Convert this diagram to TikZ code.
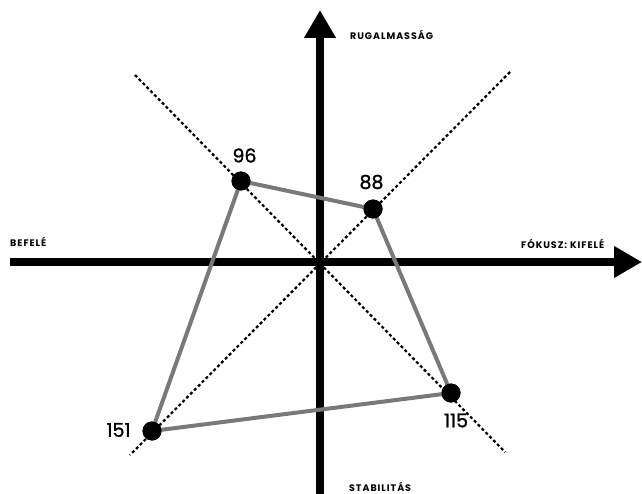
\documentclass[tikz,border=0pt]{standalone}
\usepackage{fontspec}
\setmainfont{Poppins}
\newfontfamily\axfont{Poppins}[LetterSpace=10]
\newfontfamily\numfont{Poppins}[FakeBold=1.2]
\usetikzlibrary{arrows.meta}
\begin{document}
\begin{tikzpicture}[x=1pt,y=-1pt,
  axis/.style={line width=8pt,-{Triangle[length=28pt,width=30pt]}},
  diag/.style={dash pattern=on 3pt off 2.5pt,line width=2.2pt},
  quad/.style={line width=4pt,draw=gray!95!black,line join=round},
  dot/.style={circle,fill=black,minimum size=19pt,inner sep=0pt},
  axlabel/.style={font=\axfont\bfseries\fontsize{9.5}{10}\selectfont,inner sep=0pt},
  numlabel/.style={font=\numfont\fontsize{19}{21}\selectfont,inner sep=0pt}]
\useasboundingbox (0,0) rectangle (642,494);
% axes
\coordinate (xl) at (10,262);
\coordinate (xr) at (642,262);
\coordinate (yb) at (320,494);
\coordinate (yt) at (320,10);
\draw[axis] (xl) -- (xr);
\draw[axis] (yb) -- (yt);
% diagonals
\coordinate (d1a) at (135,75);
\coordinate (d1b) at (505,452);
\coordinate (d2a) at (510,72);
\coordinate (d2b) at (130,455);
\draw[diag] (d1a) -- (d1b);
\draw[diag] (d2a) -- (d2b);
% points
\node[dot] (p96) at (241,181) {};
\node[dot] (p88) at (373,209) {};
\node[dot] (p115) at (451,393) {};
\node[dot] (p151) at (152,431) {};
\draw[quad] (p96.center) -- (p88.center) -- (p115.center) -- (p151.center) -- cycle;
\foreach \p in {p96,p88,p115,p151} \node[dot] at (\p) {};
% number labels
\node[numlabel] (l96) at (244.5,155.5) {96};
\node[numlabel] (l88) at (371.5,182) {88};
\node[numlabel] (l115) at (456,420.5) {115};
\node[numlabel] (l151) at (118.5,430) {151};
% axis labels
\node[axlabel,anchor=west] (rug) at (350,35) {RUGALMASSÁG};
\node[axlabel,anchor=west] (bef) at (10,242) {BEFELÉ};
\node[axlabel,anchor=west] (fok) at (521,244) {FÓKUSZ: KIFELÉ};
\node[axlabel,anchor=west] (stab) at (349,487) {STABILITÁS};
\end{tikzpicture}
\end{document}
